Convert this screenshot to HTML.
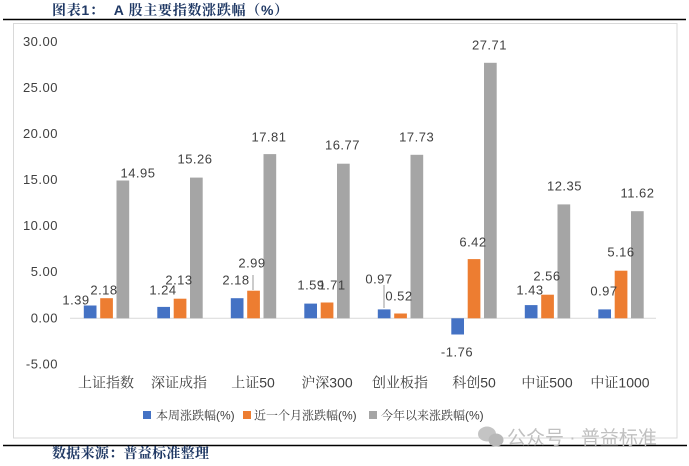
<!DOCTYPE html>
<html><head><meta charset="utf-8">
<style>
html,body{margin:0;padding:0;background:#fff;}
svg{display:block;}
</style></head>
<body>
<svg width="689" height="466" viewBox="0 0 689 466" xmlns="http://www.w3.org/2000/svg">
<rect x="0" y="0" width="689" height="466" fill="#fff"/>
<text x="52" y="15" font-family="'Liberation Sans','Noto Serif CJK SC','Noto Sans CJK SC',sans-serif" font-size="14" font-weight="bold" fill="#1f3864" letter-spacing="0.7" xml:space="preserve">图表1：  A 股主要指数涨跌幅（%）</text>
<line x1="3" y1="19.5" x2="686" y2="19.5" stroke="#000" stroke-width="1.5"/>
<rect x="13.5" y="23.5" width="663.5" height="414.5" fill="#fff" stroke="#d9d9d9" stroke-width="1"/>

<g font-family="'Liberation Sans',sans-serif" font-size="13" fill="#404040" text-anchor="end" letter-spacing="0.5">
<text x="58" y="46">30.00</text>
<text x="58" y="92">25.00</text>
<text x="58" y="138">20.00</text>
<text x="58" y="184">15.00</text>
<text x="58" y="230">10.00</text>
<text x="58" y="276">5.00</text>
<text x="58" y="322.5">0.00</text>
<text x="58" y="368.5">-5.00</text>
</g>

<line x1="70" y1="318.3" x2="656" y2="318.3" stroke="#d9d9d9" stroke-width="1"/>

<g>
<rect x="83.8" y="305.5" width="12.7" height="12.8" fill="#4472c4"/>
<rect x="157.3" y="306.9" width="12.7" height="11.4" fill="#4472c4"/>
<rect x="230.8" y="298.2" width="12.7" height="20.1" fill="#4472c4"/>
<rect x="304.3" y="303.6" width="12.7" height="14.7" fill="#4472c4"/>
<rect x="377.8" y="309.4" width="12.7" height="8.9" fill="#4472c4"/>
<rect x="451.3" y="318.3" width="12.7" height="16.2" fill="#4472c4"/>
<rect x="524.8" y="305.1" width="12.7" height="13.2" fill="#4472c4"/>
<rect x="598.3" y="309.4" width="12.7" height="8.9" fill="#4472c4"/>
<rect x="100.2" y="298.2" width="12.7" height="20.1" fill="#ed7d31"/>
<rect x="173.7" y="298.7" width="12.7" height="19.6" fill="#ed7d31"/>
<rect x="247.2" y="290.7" width="12.7" height="27.6" fill="#ed7d31"/>
<rect x="320.7" y="302.5" width="12.7" height="15.8" fill="#ed7d31"/>
<rect x="394.2" y="313.5" width="12.7" height="4.8" fill="#ed7d31"/>
<rect x="467.7" y="259.1" width="12.7" height="59.2" fill="#ed7d31"/>
<rect x="541.2" y="294.7" width="12.7" height="23.6" fill="#ed7d31"/>
<rect x="614.7" y="270.7" width="12.7" height="47.6" fill="#ed7d31"/>
<rect x="116.5" y="180.5" width="12.7" height="137.8" fill="#a5a5a5"/>
<rect x="190.0" y="177.6" width="12.7" height="140.7" fill="#a5a5a5"/>
<rect x="263.5" y="154.1" width="12.7" height="164.2" fill="#a5a5a5"/>
<rect x="337.0" y="163.7" width="12.7" height="154.6" fill="#a5a5a5"/>
<rect x="410.5" y="154.8" width="12.7" height="163.5" fill="#a5a5a5"/>
<rect x="484.0" y="62.8" width="12.7" height="255.5" fill="#a5a5a5"/>
<rect x="557.5" y="204.4" width="12.7" height="113.9" fill="#a5a5a5"/>
<rect x="631.0" y="211.2" width="12.7" height="107.1" fill="#a5a5a5"/>
</g>

<line x1="253" y1="275" x2="253" y2="290" stroke="#7f7f7f" stroke-width="0.8"/>
<line x1="384" y1="285" x2="384" y2="308" stroke="#7f7f7f" stroke-width="0.8"/>

<g font-family="'Liberation Sans',sans-serif" font-size="13" fill="#404040" text-anchor="middle" letter-spacing="0.5">
<text x="76" y="304.5">1.39</text>
<text x="104" y="294.5">2.18</text>
<text x="138" y="177.5">14.95</text>
<text x="163" y="294.5">1.24</text>
<text x="179" y="284.5">2.13</text>
<text x="195" y="163.5">15.26</text>
<text x="236" y="284.5">2.18</text>
<text x="252" y="267.5">2.99</text>
<text x="269" y="141.5">17.81</text>
<text x="311" y="289.5">1.59</text>
<text x="332" y="289.5">1.71</text>
<text x="342.5" y="149.5">16.77</text>
<text x="379" y="283.5">0.97</text>
<text x="399" y="300.5">0.52</text>
<text x="416.7" y="141.5">17.73</text>
<text x="457" y="356.5">-1.76</text>
<text x="473" y="246.5">6.42</text>
<text x="489.5" y="49.5">27.71</text>
<text x="530" y="294.5">1.43</text>
<text x="547" y="280.5">2.56</text>
<text x="564.5" y="190.5">12.35</text>
<text x="604" y="295.5">0.97</text>
<text x="621" y="256.5">5.16</text>
<text x="637.5" y="197.5">11.62</text>
</g>

<g font-family="'Liberation Sans','Noto Serif CJK SC','Noto Sans CJK SC',sans-serif" font-size="14" fill="#404040" text-anchor="middle">
<text x="106" y="387.5">上证指数</text>
<text x="179" y="387.5">深证成指</text>
<text x="253" y="387.5">上证50</text>
<text x="327" y="387.5">沪深300</text>
<text x="400" y="387.5">创业板指</text>
<text x="474" y="387.5">科创50</text>
<text x="547" y="387.5">中证500</text>
<text x="620" y="387.5">中证1000</text>
</g>

<g font-family="'Liberation Sans','Noto Serif CJK SC','Noto Sans CJK SC',sans-serif" font-size="12" fill="#404040">
<rect x="143" y="411" width="8" height="8" fill="#4472c4"/>
<text x="156" y="419.5">本周涨跌幅(%)</text>
<rect x="243" y="411" width="8" height="8" fill="#ed7d31"/>
<text x="254" y="419.5">近一个月涨跌幅(%)</text>
<rect x="369" y="411" width="8" height="8" fill="#a5a5a5"/>
<text x="381" y="419.5">今年以来涨跌幅(%)</text>
</g>

<line x1="3" y1="445.5" x2="687" y2="445.5" stroke="#000" stroke-width="1.5"/>

<g fill="#c4c4c4">
<ellipse cx="487" cy="434" rx="9" ry="7.5"/>
<ellipse cx="496" cy="440" rx="7.5" ry="6.5" fill="#b8b8b8"/>
</g>
<text x="507" y="444" font-family="'Liberation Sans','Noto Sans CJK SC',sans-serif" font-size="19" fill="#c0c0c0">公众号 · 普益标准</text>

<text x="52" y="458" font-family="'Liberation Sans','Noto Serif CJK SC','Noto Sans CJK SC',sans-serif" font-size="14" font-weight="bold" fill="#1f3864" letter-spacing="0.3">数据来源：普益标准整理</text>
</svg>
</body></html>
